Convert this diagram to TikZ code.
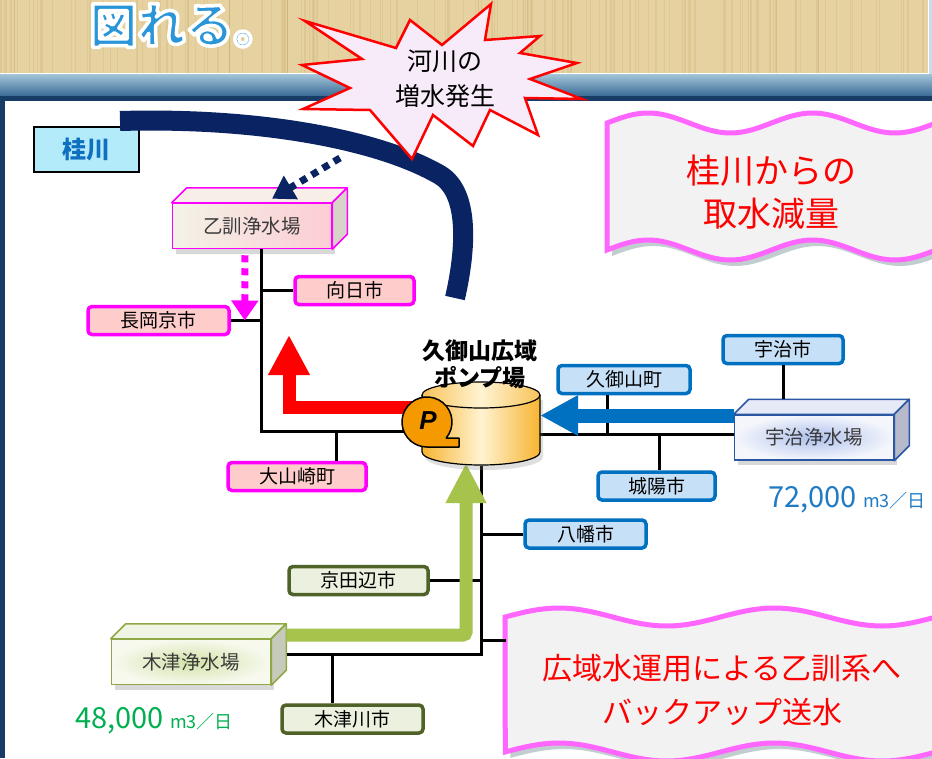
\documentclass[tikz,border=0pt]{standalone}
\usepackage{fontspec}
\setmainfont{Noto Sans CJK JP}
\newfontfamily\latinfont{Liberation Sans}
\usetikzlibrary{arrows.meta,shadows}

\definecolor{parch}{HTML}{E6D2A0}
\definecolor{parchline}{HTML}{C9AE74}
\definecolor{bandA}{HTML}{A2C4D8}
\definecolor{bandB}{HTML}{3A6C96}
\definecolor{frame}{HTML}{173D66}
\definecolor{ttlblue}{HTML}{2A95D8}
\definecolor{mag}{HTML}{FF00FF}
\definecolor{pinkfill}{HTML}{FFCCCC}
\definecolor{ublue}{HTML}{0070C0}
\definecolor{ufill}{HTML}{C6E0F8}
\definecolor{oline}{HTML}{4F6228}
\definecolor{ofill}{HTML}{EBF1DE}
\definecolor{plantgray}{HTML}{3A3A3A}
\definecolor{otline}{HTML}{FF00FF}
\definecolor{otA}{HTML}{F3F3E6}
\definecolor{otB}{HTML}{FCCCD4}
\definecolor{ottop}{HTML}{F8EEE8}
\definecolor{otside}{HTML}{D6D4C6}
\definecolor{ujline}{HTML}{2A56A4}
\definecolor{ujA}{HTML}{AEC0EC}
\definecolor{ujB}{HTML}{F4F6FC}
\definecolor{ujtop}{HTML}{E6EAF6}
\definecolor{ujside}{HTML}{B6BACA}
\definecolor{kzline}{HTML}{8FA845}
\definecolor{kzA}{HTML}{D2E2A8}
\definecolor{kzB}{HTML}{F7F9EE}
\definecolor{kztop}{HTML}{F0F4E2}
\definecolor{kzside}{HTML}{C6CABA}
\definecolor{kfill}{HTML}{B3EBFA}
\definecolor{kblue}{HTML}{1070C0}
\definecolor{rivernavy}{HTML}{0A2463}
\definecolor{burstfill}{HTML}{F7EBFA}
\definecolor{wavepink}{HTML}{FF66FF}
\definecolor{wavefill}{HTML}{F2F2F2}
\definecolor{shadowteal}{HTML}{4E7078}
\definecolor{tkA}{HTML}{F7B430}
\definecolor{tkB}{HTML}{FFF3D2}
\definecolor{pumpor}{HTML}{F49A00}
\definecolor{arrred}{HTML}{FF0000}
\definecolor{arrblue}{HTML}{0070C0}
\definecolor{arrgreen}{HTML}{A6C34C}
\definecolor{flowblue}{HTML}{1E7BC4}
\definecolor{flowgreen}{HTML}{00B050}

% white-rimmed heading glyphs (fill + stroke render mode)
\newcommand\rimtext[1]{\special{pdf:literal direct 2 Tr 3.5 w 1 j 1 1 1 RG}#1\special{pdf:literal direct 0 Tr}}

\begin{document}
\begin{tikzpicture}[x=1pt, y=-1pt, >=Triangle,
    city/.style={draw, rounded corners=4pt, line width=3.5pt, minimum height=28pt,
      inner sep=0pt, font=\fontsize{19}{19}\selectfont},
    pcity/.style={city, draw=mag, fill=pinkfill},
    bcity/.style={city, draw=ublue, fill=ufill},
    gcity/.style={city, draw=oline, fill=ofill},
    plant/.style={draw, line width=1.5pt, minimum width=159pt, minimum height=45pt,
      inner sep=0pt, text=plantgray, font=\fontsize{19.5}{19.5}\selectfont,
      drop shadow={shadow xshift=3pt, shadow yshift=-5pt, opacity=.3}},
    pipe/.style={line width=3pt},
    rarrow/.style={arrred, line width=13pt, -{Triangle[length=40pt,width=39pt]}},
    barrow/.style={arrblue, line width=14pt, -{Triangle[length=38pt,width=38pt]}},
    garrow/.style={arrgreen, line width=13pt, rounded corners=3pt, -{Triangle[length=40pt,width=38pt]}},
    river/.style={rivernavy, line width=20pt},
    flood/.style={rivernavy, line width=7pt, dash pattern=on 7pt off 6pt, -{Triangle[length=22pt,width=26pt]}},
    feed/.style={mag, line width=7pt, dash pattern=on 7pt off 6pt, -{Triangle[length=20pt,width=26pt]}},
    wave/.style={draw=wavepink, line width=5pt, fill=wavefill,
      drop shadow={shadow xshift=5pt, shadow yshift=-6pt, opacity=.35, fill=shadowteal}},
    note/.style={align=center, text=arrred},
    ttl/.style={anchor=base west, font=\bfseries\fontsize{48}{48}\selectfont}]
  \useasboundingbox (0,0) rectangle (932,758);

  % parchment header and frame
  \fill[parch] (0,0) rectangle (932,74);
  \pgfmathsetseed{11}
  \foreach \i in {1,...,160}{
    \pgfmathsetmacro{\px}{932*rnd}
    \pgfmathsetmacro{\pw}{0.4+1.4*rnd}
    \draw[parchline, line width=\pw pt, opacity=.3] (\px,0) -- (\px,73);
  }
  \fill[bandA!60!white] (929,0) rectangle (932,74);
  \draw[white, line width=1.5pt] (0,73.5) -- (928.5,73.5) -- (928.5,0);
  \shade[top color=bandA, bottom color=bandB] (0,74.25) rectangle (932,96);
  \fill[frame] (0,96) rectangle (932,101);
  \fill[white] (5,101) rectangle (932,758);
  \fill[frame] (0,96) rectangle (5,758);

  \node[ttl, text=ttlblue] (title) at (86,43) {\rimtext{図れる。}};

  % callouts
  \filldraw[wave] plot[domain=0:1, samples=80] ({607+329*\x},{123-10*sin(720*\x)})
    -- plot[domain=1:0, samples=80] ({607+329*\x},{250-10*sin(720*\x)}) -- cycle;
  \node[note, font=\fontsize{34}{43}\selectfont] (cut) at (771,192) {桂川からの\\取水減量};
  \filldraw[wave] plot[domain=0:1, samples=80] ({505+431*\x},{617-9*sin(720*\x)})
    -- plot[domain=1:0, samples=80] ({505+431*\x},{752-9*sin(720*\x)}) -- cycle;
  \node[note, font=\fontsize{30}{44}\selectfont] (backup) at (722,690) {広域水運用による乙訓系へ\\バックアップ送水};

  % plants
  \node[plant, draw=mag, left color=otA, right color=otB] (otokuni) at (252,226) {乙訓浄水場};
  \node[plant, draw=ujline, inner color=ujA, outer color=ujB] (uji) at (814,437.5) {宇治浄水場};
  \node[plant, draw=kzline, inner color=kzA, outer color=kzB] (kizu) at (191,662) {木津浄水場};
  \foreach \n/\c in {otokuni/ot, uji/uj, kizu/kz}{
    \filldraw[draw=\c line, fill=\c top, line width=1.5pt, line join=round]
      (\n.north west) -- ([shift={(15pt,15pt)}]\n.north west)
      -- ([shift={(15pt,15pt)}]\n.north east) -- (\n.north east) -- cycle;
    \filldraw[draw=\c line, fill=\c side, line width=1.5pt, line join=round]
      (\n.north east) -- ([shift={(15pt,15pt)}]\n.north east)
      -- ([shift={(15pt,15pt)}]\n.south east) -- (\n.south east) -- cycle;
  }

  \node[draw, line width=2.5pt, fill=kfill, minimum width=105pt, minimum height=45pt,
    text=kblue, font=\bfseries\fontsize{24}{24}\selectfont] (katsura) at (86.5,149.5) {桂川};

  % cities
  \node[pcity, minimum width=119pt] (hyuga) at (354.5,290.5) {向日市};
  \node[pcity, minimum width=141pt] (nagaoka) at (158.5,320.5) {長岡京市};
  \node[pcity, minimum width=138pt] (oyama) at (297,476.5) {大山崎町};
  \node[bcity, minimum width=132pt] (kumiyama) at (624,379.5) {久御山町};
  \node[bcity, minimum width=120pt] (ujishi) at (783,349.5) {宇治市};
  \node[bcity, minimum width=117pt] (joyo) at (656.5,486) {城陽市};
  \node[bcity, minimum width=121pt] (yawata) at (585.5,534) {八幡市};
  \node[gcity, minimum width=139pt] (kyotanabe) at (358.5,580.5) {京田辺市};
  \node[gcity, minimum width=141pt] (kizugawa) at (352.5,719) {木津川市};

  \node[minimum width=118pt, minimum height=82pt, inner sep=0pt] (tank) at (481,425) {};

  % supply lines
  \coordinate (jw) at (261,431);
  \coordinate (je) at (541,434);
  \coordinate (js) at (481,654);
  \coordinate (bk) at (506,640);
  \coordinate (ujitop) at ([yshift=15pt]uji.north);
  \coordinate (kizuR) at ([xshift=16pt]kizu.east);
  \draw[pipe] (otokuni.south -| jw) -- (jw) -- (tank.west |- jw);
  \draw[pipe] (hyuga.west) -- (hyuga.west -| jw);
  \draw[pipe] (nagaoka.east) -- (nagaoka.east -| jw);
  \draw[pipe] ([xshift=39pt]oyama.north) -- ([xshift=39pt]oyama.north |- jw);
  \draw[pipe] (tank.east |- je) -- (je -| uji.west);
  \draw[pipe] ([xshift=-17pt]kumiyama.south) -- ([xshift=-17pt]kumiyama.south |- je);
  \draw[pipe] ([xshift=3pt]joyo.north) -- ([xshift=3pt]joyo.north |- je);
  \draw[pipe] (ujishi.south) -- (ujishi.south |- ujitop);
  \draw[pipe] (tank.south) -- (js) -- (js -| kizuR);
  \draw[pipe] (yawata.west) -- (yawata.west -| js);
  \draw[pipe] (kyotanabe.east) -- (kyotanabe.east -| js);
  \draw[pipe] ([xshift=-20pt]kizugawa.north) -- ([xshift=-20pt]kizugawa.north |- js);
  \draw[pipe] (bk) -- (bk -| js);

  % transfer arrows
  \coordinate (ratip) at (289,335);
  \coordinate (gatip) at (466,463);
  \draw[rarrow] (427,407) -| (ratip);
  \draw[barrow] ([yshift=22pt]uji.west) -- ([yshift=22pt]uji.west -| tank.east);
  \draw[garrow] ([xshift=15pt,yshift=27pt]kizu.east) -| (gatip);

  % pump station
  \shade[left color=tkA, right color=tkA, middle color=tkB,
      drop shadow={shadow xshift=3pt, shadow yshift=-5pt, opacity=.25}]
    (422,395) -- (422,452) arc[start angle=180, end angle=0, x radius=59, y radius=13]
    -- (540,395) -- cycle;
  \draw[line width=1.2pt] (422,395) -- (422,452) arc[start angle=180, end angle=0, x radius=59, y radius=13]
    -- (540,395);
  \shade[left color=tkA!80!white, right color=tkA!80!white, middle color=tkB]
    (481,395) ellipse[x radius=59, y radius=13];
  \draw[line width=1.2pt] (481,395) ellipse[x radius=59, y radius=13];
  \filldraw[fill=pumpor, line width=1.5pt, line join=round]
    (427,447) -- (459,447) -- (459,438) -- (446.2,438)
    arc[start angle=39.8, end angle=-270, radius=25] -- cycle;
  \node[font=\latinfont\bfseries\itshape\fontsize{26}{26}\selectfont] (pump) at (428,421) {P};
  \node[align=center, font=\bfseries\fontsize{23}{27}\selectfont] (station) at (480,364) {久御山広域\\ポンプ場};

  % river and flood
  \coordinate (src) at (120,121);
  \coordinate (rvend) at (455,298);
  \coordinate (spill) at (340,158);
  \draw[river] (src) .. controls (260,117) and (380,140) .. (440,175)
    .. controls (470,193) and (466,250) .. (rvend);
  \draw[flood] (spill) -- ([xshift=20pt,yshift=4pt]otokuni.north);
  \draw[feed] ([xshift=-7pt,yshift=-6pt]otokuni.south) -- ([xshift=14pt]nagaoka.east);

  \filldraw[fill=burstfill, draw=arrred, line width=2.5pt]
    (305,21) -- (396,48) -- (410,20) -- (442,45) -- (491,4) -- (485,40)
    -- (540,36) -- (520,53) -- (577,63) -- (530,79) -- (582,99) -- (525,98)
    -- (538,135) -- (490,110) -- (473,146) -- (433,115) -- (412,159) -- (370,110)
    -- (303,109) -- (350,88) -- (302,65) -- (362,59) -- cycle;
  \node[align=center, font=\fontsize{25}{35}\selectfont] (flood) at (445,79) {河川の\\増水発生};

  % daily volumes
  \node[anchor=base west, text=flowblue, inner sep=0pt] (ujiflow) at (768,507)
    {\fontsize{29}{29}\selectfont 72,000 \fontsize{18}{18}\selectfont m3／日};
  \node[anchor=base west, text=flowgreen, inner sep=0pt] (kizuflow) at (75,728)
    {\fontsize{29}{29}\selectfont 48,000 \fontsize{18}{18}\selectfont m3／日};
\end{tikzpicture}
\end{document}
